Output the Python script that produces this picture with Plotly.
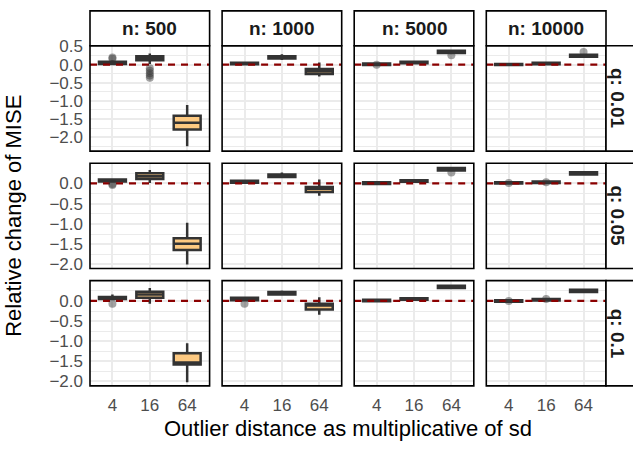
import plotly.graph_objects as go

# ---------------- data ----------------
dist_labels = ["4", "16", "64"]
n_labels = ["500", "1000", "5000", "10000"]
q_labels = ["0.01", "0.05", "0.1"]
reference_value = 0.0

# stats[row q][col n][dist]
lower_whisker = [
    [[-0.02, 0.02, -2.25], [-0.01, 0.13, -0.33], [-0.03, 0.02, 0.29], [-0.03, 0.00, 0.20]],
    [[0.02, 0.01, -2.00], [0.00, 0.14, -0.30], [-0.02, 0.02, 0.30], [-0.01, 0.00, 0.20]],
    [[0.02, -0.07, -2.02], [0.00, 0.14, -0.34], [-0.03, 0.01, 0.30], [-0.04, -0.01, 0.20]],
]
q1_vals = [
    [[0.02, 0.12, -1.79], [0.01, 0.17, -0.26], [-0.01, 0.04, 0.32], [-0.01, 0.01, 0.22]],
    [[0.05, 0.11, -1.64], [0.02, 0.16, -0.21], [-0.01, 0.04, 0.32], [0.00, 0.01, 0.22]],
    [[0.05, 0.08, -1.58], [0.02, 0.16, -0.21], [-0.01, 0.03, 0.32], [-0.02, 0.01, 0.22]],
]
median_vals = [
    [[0.05, 0.19, -1.60], [0.03, 0.20, -0.18], [0.01, 0.06, 0.35], [0.00, 0.03, 0.25]],
    [[0.08, 0.18, -1.49], [0.05, 0.20, -0.13], [0.01, 0.06, 0.35], [0.01, 0.03, 0.25]],
    [[0.08, 0.16, -1.53], [0.06, 0.20, -0.11], [0.01, 0.05, 0.35], [0.00, 0.03, 0.25]],
]
q3_vals = [
    [[0.08, 0.23, -1.41], [0.05, 0.23, -0.12], [0.03, 0.08, 0.38], [0.02, 0.05, 0.27]],
    [[0.10, 0.25, -1.35], [0.07, 0.22, -0.09], [0.03, 0.08, 0.38], [0.03, 0.05, 0.28]],
    [[0.10, 0.23, -1.30], [0.08, 0.22, -0.07], [0.03, 0.07, 0.38], [0.02, 0.05, 0.28]],
]
upper_whisker = [
    [[0.12, 0.31, -1.11], [0.08, 0.29, 0.06], [0.05, 0.10, 0.41], [0.04, 0.07, 0.30]],
    [[0.13, 0.33, -0.97], [0.10, 0.27, 0.10], [0.05, 0.10, 0.41], [0.05, 0.07, 0.30]],
    [[0.16, 0.32, -1.05], [0.11, 0.26, 0.09], [0.05, 0.09, 0.40], [0.04, 0.07, 0.30]],
]
# outliers: (row, col, dist index, value)
outlier_row = [0, 0, 0, 0, 0, 0, 0, 0, 0, 0, 1, 1, 1, 1, 1, 2, 2, 2, 2]
outlier_col = [0, 0, 0, 0, 0, 0, 0, 2, 2, 3, 0, 0, 2, 3, 3, 0, 1, 3, 3]
outlier_dist = [0, 0, 1, 1, 1, 1, 1, 0, 2, 2, 0, 0, 2, 0, 1, 0, 0, 0, 1]
outlier_val = [0.20, 0.16, -0.10, -0.17, -0.24, -0.30, -0.36, 0.00, 0.26, 0.35,
               -0.04, -0.01, 0.27, 0.01, 0.03, -0.07, -0.07, 0.00, 0.05]

x_range = [0.4, 3.6]
y_ranges = [[-2.385, 0.52], [-2.10, 0.50], [-2.11, 0.505]]
y_major = [[0.5, 0.0, -0.5, -1.0, -1.5, -2.0], [0.0, -0.5, -1.0, -1.5, -2.0], [0.0, -0.5, -1.0, -1.5, -2.0]]
y_minor = [[0.25, -0.25, -0.75, -1.25, -1.75, -2.25], [0.25, -0.25, -0.75, -1.25, -1.75],
           [0.25, -0.25, -0.75, -1.25, -1.75]]

# ---------------- layout geometry ----------------
W, H = 633, 450
col_x = [(90, 209.6), (222.1, 341.7), (354.2, 473.8), (486.3, 606)]
row_y = [(39, 147.7), (160.2, 268.9), (281.4, 390)]
strip_top = (3, 39)
strip_right = (606, 660)

FONT = "Liberation Sans, Arial, Helvetica, sans-serif"
BOX_LINE = "#333333"
BOX_FILL = "#FDC981"
GRID = "#EBEBEB"
TICK_SIZE = 17

fig = go.Figure()
layout = dict(
    width=W, height=H, margin=dict(l=0, r=0, t=0, b=0),
    paper_bgcolor="white", plot_bgcolor="white",
    font=dict(family=FONT), showlegend=False, boxmode="overlay",
)
shapes = []
annotations = []

for r in range(3):
    for c in range(4):
        k = r * 4 + c + 1
        xa = "x" if k == 1 else f"x{k}"
        ya = "y" if k == 1 else f"y{k}"
        xkey = "xaxis" if k == 1 else f"xaxis{k}"
        ykey = "yaxis" if k == 1 else f"yaxis{k}"
        x0, x1 = col_x[c]
        y0, y1 = row_y[r]
        layout[xkey] = dict(
            domain=[x0 / W, x1 / W], anchor=ya, range=x_range,
            tickvals=[1, 2, 3], ticktext=dist_labels,
            showticklabels=(r == 2), ticks="", ticklabelstandoff=7,
            tickfont=dict(size=TICK_SIZE, color="#4D4D4D"),
            showgrid=True, gridcolor=GRID, gridwidth=1.5, zeroline=False,
            showline=False, fixedrange=True,
        )
        layout[ykey] = dict(
            domain=[1 - y1 / H, 1 - y0 / H], anchor=xa, range=y_ranges[r],
            tickvals=y_major[r], ticktext=[("%.1f" % v).replace("-", "\u2212") for v in y_major[r]],
            showticklabels=(c == 0), ticks="", ticklabelstandoff=6,
            tickfont=dict(size=TICK_SIZE, color="#4D4D4D"),
            showgrid=True, gridcolor=GRID, gridwidth=1.5, zeroline=False,
            minor=dict(tickvals=y_minor[r], showgrid=True, gridcolor=GRID, gridwidth=1),
            showline=False, fixedrange=True,
        )

        # dashed reference line at zero (under boxes)
        fig.add_trace(go.Scatter(
            x=x_range, y=[reference_value, reference_value], mode="lines",
            xaxis=xa, yaxis=ya, line=dict(color="#8B0000", width=2.2, dash="7px,6px"),
            hoverinfo="skip",
        ))
        # outliers (under boxes)
        ox = [outlier_dist[i] + 1 for i in range(len(outlier_val))
              if outlier_row[i] == r and outlier_col[i] == c]
        oy = [outlier_val[i] for i in range(len(outlier_val))
              if outlier_row[i] == r and outlier_col[i] == c]
        if ox:
            fig.add_trace(go.Scatter(
                x=ox, y=oy, mode="markers", xaxis=xa, yaxis=ya,
                marker=dict(size=8, color="rgba(51,51,51,0.45)", line=dict(width=0)),
                hoverinfo="skip",
            ))
        fig.add_trace(go.Box(
            x=[1, 2, 3], orientation="v",
            q1=q1_vals[r][c], median=median_vals[r][c], q3=q3_vals[r][c],
            lowerfence=lower_whisker[r][c], upperfence=upper_whisker[r][c],
            xaxis=xa, yaxis=ya, width=0.72, whiskerwidth=0,
            fillcolor=BOX_FILL, line=dict(color=BOX_LINE, width=2.5),
            boxpoints=False, hoverinfo="skip",
        ))
        # panel border
        shapes.append(dict(type="rect", xref="paper", yref="paper",
                           x0=x0 / W, x1=x1 / W, y0=1 - y1 / H, y1=1 - y0 / H,
                           line=dict(color="black", width=1.6), fillcolor="rgba(0,0,0,0)",
                           layer="above"))

# top strips
for c in range(4):
    x0, x1 = col_x[c]
    shapes.append(dict(type="rect", xref="paper", yref="paper",
                       x0=x0 / W, x1=x1 / W, y0=1 - strip_top[1] / H, y1=1 - strip_top[0] / H,
                       fillcolor="white", line=dict(color="black", width=1.6), layer="above"))
    annotations.append(dict(xref="paper", yref="paper", x=(x0 + x1) / 2 / W,
                            y=1 - (strip_top[0] + strip_top[1]) / 2 / H,
                            text="<b>n: %s</b>" % n_labels[c], showarrow=False,
                            font=dict(size=19, color="#1A1A1A", family=FONT),
                            xanchor="center", yanchor="middle"))
# right strips
for r in range(3):
    y0, y1 = row_y[r]
    shapes.append(dict(type="rect", xref="paper", yref="paper",
                       x0=strip_right[0] / W, x1=strip_right[1] / W, y0=1 - y1 / H, y1=1 - y0 / H,
                       fillcolor="white", line=dict(color="black", width=1.6), layer="above"))
    annotations.append(dict(xref="paper", yref="paper", x=617.5 / W, y=1 - (y0 + y1) / 2 / H,
                            text="<b>q: %s</b>" % q_labels[r], showarrow=False, textangle=90,
                            font=dict(size=19, color="#1A1A1A", family=FONT),
                            xanchor="center", yanchor="middle"))

# axis titles
annotations.append(dict(xref="paper", yref="paper", x=(col_x[0][0] + col_x[3][1]) / 2 / W,
                        y=1 - 434 / H, text="Outlier distance as multiplicative of sd",
                        showarrow=False, font=dict(size=22, color="black", family=FONT),
                        xanchor="center", yanchor="middle"))
annotations.append(dict(xref="paper", yref="paper", x=14 / W,
                        y=1 - (row_y[0][0] + row_y[2][1]) / 2 / H,
                        text="Relative change of MISE", textangle=-90,
                        showarrow=False, font=dict(size=22, color="black", family=FONT),
                        xanchor="center", yanchor="middle"))

layout["shapes"] = shapes
layout["annotations"] = annotations
fig.update_layout(**layout)
fig.write_html("out.html")
